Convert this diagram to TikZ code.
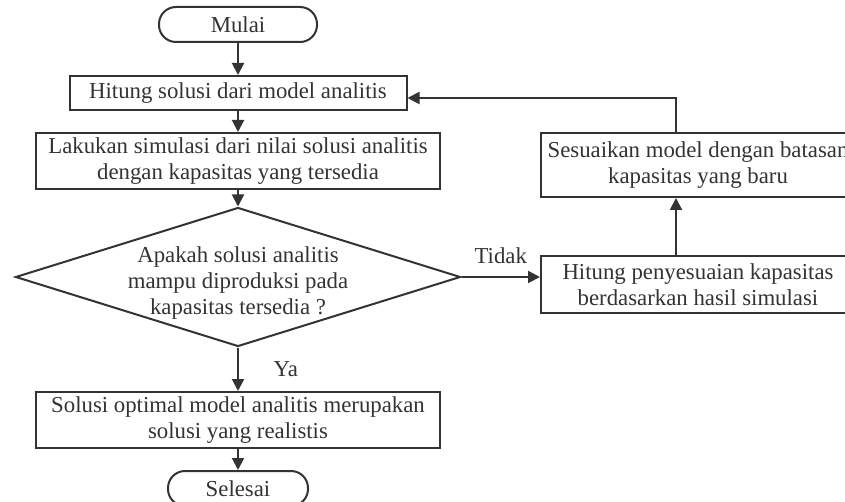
\documentclass[tikz,border=0pt]{standalone}
\usepackage{fontspec}
\setmainfont{Liberation Serif}
\usetikzlibrary{arrows.meta, shapes.geometric}
\definecolor{flowInk}{HTML}{333333}

\begin{document}
\begin{tikzpicture}[
  x=0.5pt, y=-0.5pt,
  every node/.style={font=\fontsize{11.4}{13}\selectfont, text=flowInk},
  box/.style={draw=flowInk, line width=1pt, align=center, inner sep=0pt},
  term/.style={box, rounded corners=8.5pt, minimum width=79pt, minimum height=17.5pt},
  decision/.style={draw=flowInk, line width=1pt, diamond, inner sep=0pt,
                   minimum width=222.5pt, minimum height=69.5pt},
  sidebox/.style={box, minimum width=180pt},
  arrow/.style={-{Triangle[length=6pt, width=6pt]}, draw=flowInk, line width=1pt},
]
  \useasboundingbox (0,0) rectangle (845,502);

  % main column
  \node[term] (start) at (238,24.5) {Mulai};
  \node[box, minimum width=168.5pt, minimum height=17pt] (calc) at (238,93) {Hitung solusi dari model analitis};
  \node[box, minimum width=202pt, minimum height=28pt] (sim) at (238,161)
    {Lakukan simulasi dari nilai solusi analitis\\dengan kapasitas yang tersedia};
  \node[decision] (check) at (238,277) {};
  \node[align=center] (checktxt) at (238,283)
    {Apakah solusi analitis\\mampu diproduksi pada\\kapasitas tersedia ?};
  \node[box, minimum width=202pt, minimum height=28pt] (opt) at (238,420)
    {Solusi optimal model analitis merupakan\\solusi yang realistis};
  \node[term, minimum width=70pt] (finish) at (238,488.5) {Selesai};

  % right column (runs off the page edge)
  \node[sidebox, minimum height=28.5pt] (adjcap) at (721,284.5)
    {Hitung penyesuaian kapasitas\hspace*{23pt}\\berdasarkan hasil simulasi\hspace*{23pt}};
  \node[sidebox, minimum height=32pt] (adjmod) at (721,165)
    {Sesuaikan model dengan batasan\hspace*{23pt}\\kapasitas yang baru\hspace*{23pt}};

  \draw[arrow] (start) -- (calc);
  \draw[arrow] (calc) -- (sim);
  \draw[arrow] (sim) -- (check);
  \draw[arrow] (check.east) -- node[above=3pt] (no) {Tidak} (check.east -| adjcap.west);
  \draw[arrow] (check.south) -- node[right=14pt] (yes) {Ya} (opt);
  \draw[arrow] (opt) -- (finish);
  \draw[arrow] ([xshift=-22.5pt]adjcap.north) -- ([xshift=-22.5pt]adjmod.south);
  \draw[arrow] ([xshift=-22.5pt]adjmod.north) |- ([yshift=-2.5pt]calc.east);
\end{tikzpicture}
\end{document}
